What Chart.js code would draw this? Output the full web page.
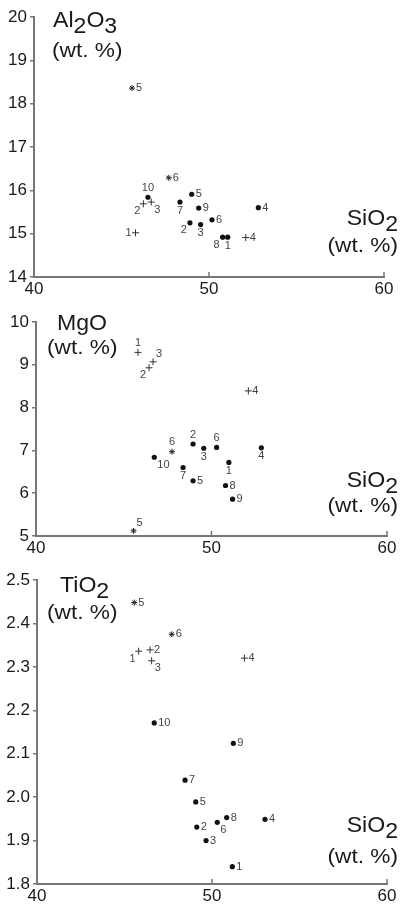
<!DOCTYPE html>
<html>
<head>
<meta charset="utf-8">
<script src="https://cdn.jsdelivr.net/npm/chart.js@4.4.0/dist/chart.umd.min.js"></script>
<style>
  html, body { margin: 0; padding: 0; background: #fff; }
  #wrap { position: relative; width: 408px; height: 908px; overflow: hidden; }
  canvas { position: absolute; left: 0; }
</style>
</head>
<body>
<div id="wrap">
  <canvas id="alChart" width="408" height="300" style="top:0px"></canvas>
  <canvas id="mgChart" width="408" height="260" style="top:300px"></canvas>
  <canvas id="tiChart" width="408" height="348" style="top:560px"></canvas>
</div>
<script>
// sample numbers
const plusIds = ['1', '2', '3', '4'];
const starIds = ['5', '6'];
const dotIds = ['1', '2', '3', '4', '5', '6', '7', '8', '9', '10'];

// Al2O3 vs SiO2
const alPlusSiO2 = [45.8, 46.25, 46.7, 52.1];
const alPlusVal = [15.02, 15.69, 15.73, 14.91];
const alStarSiO2 = [45.6, 47.7];
const alStarVal = [18.36, 16.29];
const alDotSiO2 = [51.07, 48.91, 49.52, 52.82, 49.01, 50.17, 48.34, 50.78, 49.41, 46.51];
const alDotVal = [14.92, 15.25, 15.21, 15.60, 15.91, 15.32, 15.73, 14.92, 15.59, 15.84];

// MgO vs SiO2
const mgPlusSiO2 = [45.81, 46.44, 46.67, 52.1];
const mgPlusVal = [9.29, 8.93, 9.07, 8.39];
const mgStarSiO2 = [45.56, 47.75];
const mgStarVal = [5.12, 6.97];
const mgDotSiO2 = [50.99, 48.95, 49.56, 52.84, 48.95, 50.29, 48.38, 50.8, 51.2, 46.74];
const mgDotVal = [6.72, 7.15, 7.05, 7.06, 6.29, 7.07, 6.6, 6.18, 5.86, 6.84];

// TiO2 vs SiO2
const tiPlusSiO2 = [45.81, 46.46, 46.55, 51.85];
const tiPlusVal = [2.336, 2.339, 2.314, 2.32];
const tiStarSiO2 = [45.56, 47.7];
const tiStarVal = [2.448, 2.375];
const tiDotSiO2 = [51.16, 49.13, 49.66, 53.03, 49.07, 50.3, 48.46, 50.84, 51.22, 46.7];
const tiDotVal = [1.84, 1.931, 1.90, 1.949, 1.989, 1.942, 2.039, 1.953, 2.124, 2.171];

// where each number sits next to its mark
const alPlusPlace = ['l', 'bl', 'br', 'r'];
const alStarPlace = ['r', 'r'];
const alDotPlace = ['b', 'bl', 'b', 'r', 'r', 'r', 'b', 'bl', 'r', 't'];
const mgPlusPlace = ['t', 'bl', 'tr', 'r'];
const mgStarPlace = ['tr', 't'];
const mgDotPlace = ['b', 't', 'b', 'b', 'r', 't', 'b', 'r', 'r', 'br'];
const tiPlusPlace = ['bl', 'r', 'br', 'r'];
const tiStarPlace = ['r', 'r'];
const tiDotPlace = ['r', 'r', 'r', 'r', 'r', 'br', 'r', 'r', 'r', 'r'];

const FONT = '"Liberation Sans", Arial, sans-serif';
const INK = '#1a1a1a';
const AXIS = '#777';

const offsets = {
    r: [4, 0, 'left', 'middle'],
    l: [-4, 0, 'right', 'middle'],
    t: [0, -4, 'center', 'bottom'],
    b: [0, 3, 'center', 'top'],
    bl: [-3, 2, 'right', 'top'],
    br: [3, 2, 'left', 'top'],
    tr: [3, -2, 'left', 'bottom']
};

function toPoints(xs, ys) {
    return xs.map((x, i) => ({ x: x, y: ys[i] }));
}

// draws text like Al2O3 with dropped subscripts
function drawFormula(ctx, parts, x, y, align, size, sx) {
    ctx.save();
    ctx.font = size + 'px ' + FONT;
    ctx.fillStyle = INK;
    ctx.textAlign = 'left';
    ctx.textBaseline = 'alphabetic';
    ctx.translate(x, y);
    ctx.scale(sx, 1);
    let w = 0;
    parts.forEach(p => { w += ctx.measureText(p[0]).width; });
    let cx = align === 'right' ? -w : 0;
    parts.forEach(p => {
        ctx.fillText(p[0], cx, p[1] ? 6 : 0);
        cx += ctx.measureText(p[0]).width;
    });
    ctx.restore();
}

const pointLabels = {
    id: 'pointLabels',
    afterDatasetsDraw(chart) {
        const ctx = chart.ctx;
        ctx.save();
        ctx.font = '11px ' + FONT;
        ctx.fillStyle = '#444';
        chart.data.datasets.forEach((ds, di) => {
            const meta = chart.getDatasetMeta(di);
            meta.data.forEach((pt, i) => {
                const o = offsets[ds.place[i]];
                ctx.textAlign = o[2];
                ctx.textBaseline = o[3];
                ctx.fillText(ds.ids[i], pt.x + o[0], pt.y + o[1]);
            });
        });
        ctx.restore();
    }
};

const axisText = {
    id: 'axisText',
    afterDraw(chart) {
        const ctx = chart.ctx;
        const a = chart.chartArea;
        const t = chart.options.plugins.axisText;
        // short inward ticks on the x axis
        const x = chart.scales.x;
        ctx.save();
        ctx.strokeStyle = AXIS;
        ctx.lineWidth = 1.5;
        x.ticks.forEach(tk => {
            const px = x.getPixelForValue(tk.value);
            ctx.beginPath();
            ctx.moveTo(px, a.bottom);
            ctx.lineTo(px, a.bottom - 5);
            ctx.stroke();
        });
        ctx.restore();

        drawFormula(ctx, t.name, a.left + t.nameDx, a.top + t.nameDy, 'left', 22, 1.05);
        drawFormula(ctx, [['(wt. %)']], a.left + t.wtDx, a.top + t.wtDy, 'left', 21, 1.08);
        drawFormula(ctx, [['SiO'], ['2', 1]], 398, a.bottom + t.siDy, 'right', 22, 1.05);
        drawFormula(ctx, [['(wt. %)']], 398, a.bottom + t.siWtDy, 'right', 21, 1.08);
    }
};

function makePanel(id, p) {
    const ctx = document.getElementById(id).getContext('2d');
    new Chart(ctx, {
        type: 'scatter',
        data: {
            datasets: [
                {
                    data: toPoints(p.plusX, p.plusY),
                    ids: plusIds,
                    place: p.plusPlace,
                    pointStyle: 'cross',
                    pointRadius: 3.5,
                    borderWidth: 1,
                    borderColor: '#333',
                    backgroundColor: '#333'
                },
                {
                    data: toPoints(p.starX, p.starY),
                    ids: starIds,
                    place: p.starPlace,
                    pointStyle: 'star',
                    pointRadius: 3,
                    borderWidth: 1,
                    borderColor: '#222',
                    backgroundColor: '#222'
                },
                {
                    data: toPoints(p.dotX, p.dotY),
                    ids: dotIds,
                    place: p.dotPlace,
                    pointStyle: 'circle',
                    pointRadius: 2.6,
                    borderWidth: 0,
                    backgroundColor: '#111'
                }
            ]
        },
        options: {
            responsive: false,
            animation: false,
            events: [],
            layout: {
                padding: { top: p.padTop, right: p.padRight, left: 0, bottom: 0 }
            },
            plugins: {
                legend: { display: false },
                tooltip: { enabled: false },
                axisText: p.text
            },
            scales: {
                x: {
                    type: 'linear',
                    min: 40,
                    max: 60,
                    afterFit: s => { s.height = p.xHeight; },
                    border: { color: AXIS, width: 2 },
                    grid: { drawOnChartArea: false, drawTicks: false },
                    ticks: {
                        stepSize: 10,
                        padding: 2,
                        color: INK,
                        font: { family: FONT, size: 17 }
                    }
                },
                y: {
                    type: 'linear',
                    min: p.yMin,
                    max: p.yMax,
                    afterFit: s => { s.width = p.yWidth; },
                    border: { color: AXIS, width: 2 },
                    grid: { drawOnChartArea: false, color: AXIS, tickLength: 4, lineWidth: 1.5 },
                    ticks: {
                        stepSize: p.yStep,
                        padding: 3,
                        color: INK,
                        font: { family: FONT, size: 17 },
                        callback: v => p.yStep < 1 ? v.toFixed(1) : v
                    }
                }
            }
        },
        plugins: [pointLabels, axisText]
    });
}

makePanel('alChart', {
    plusX: alPlusSiO2, plusY: alPlusVal, plusPlace: alPlusPlace,
    starX: alStarSiO2, starY: alStarVal, starPlace: alStarPlace,
    dotX: alDotSiO2, dotY: alDotVal, dotPlace: alDotPlace,
    yMin: 14, yMax: 20, yStep: 1,
    padTop: 17, padRight: 24, yWidth: 34, xHeight: 23,
    text: { name: [['Al'], ['2', 1], ['O'], ['3', 1]], nameDx: 19, nameDy: 10, wtDx: 18, wtDy: 40, siDy: -52, siWtDy: -25 }
});

makePanel('mgChart', {
    plusX: mgPlusSiO2, plusY: mgPlusVal, plusPlace: mgPlusPlace,
    starX: mgStarSiO2, starY: mgStarVal, starPlace: mgStarPlace,
    dotX: mgDotSiO2, dotY: mgDotVal, dotPlace: mgDotPlace,
    yMin: 5, yMax: 10, yStep: 1,
    padTop: 22, padRight: 21, yWidth: 36, xHeight: 24,
    text: { name: [['MgO']], nameDx: 21, nameDy: 8, wtDx: 11, wtDy: 32, siDy: -49, siWtDy: -24 }
});

makePanel('tiChart', {
    plusX: tiPlusSiO2, plusY: tiPlusVal, plusPlace: tiPlusPlace,
    starX: tiStarSiO2, starY: tiStarVal, starPlace: tiStarPlace,
    dotX: tiDotSiO2, dotY: tiDotVal, dotPlace: tiDotPlace,
    yMin: 1.8, yMax: 2.5, yStep: 0.1,
    padTop: 20, padRight: 21, yWidth: 37, xHeight: 24,
    text: { name: [['TiO'], ['2', 1]], nameDx: 23, nameDy: 12, wtDx: 10, wtDy: 39, siDy: -52, siWtDy: -21 }
});
</script>
</body>
</html>
